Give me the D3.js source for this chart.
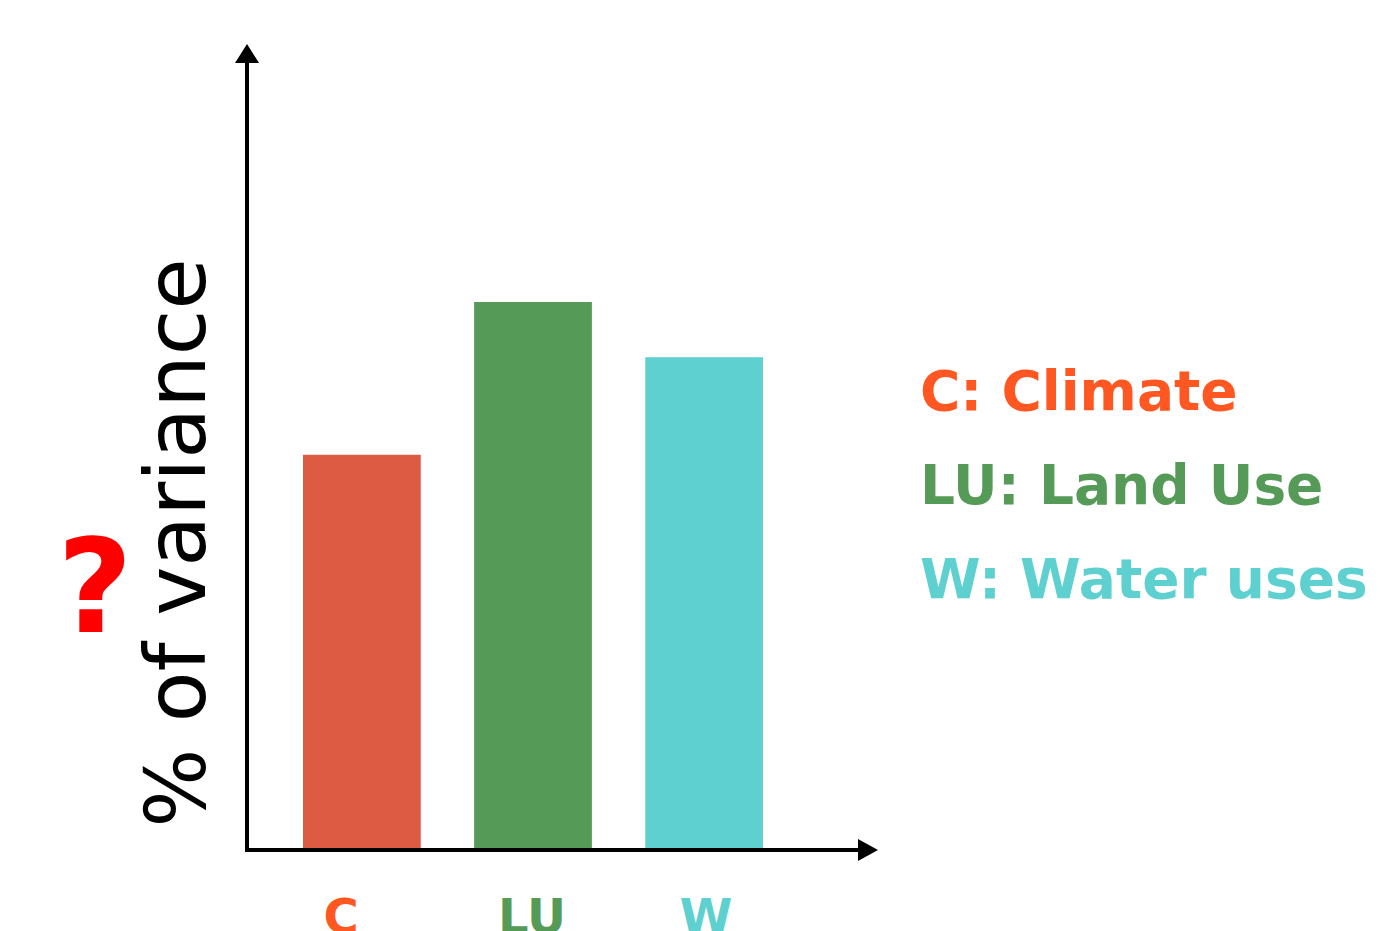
<!DOCTYPE html>
<html><head><meta charset="utf-8">
<script src="https://cdn.jsdelivr.net/npm/d3@7"></script>
<style>body{margin:0;background:#fff;overflow:hidden}svg{display:block}text{font-family:"DejaVu Sans",sans-serif}</style>
</head><body>
<script>
const categories = ["C", "LU", "W"];
const values = [49.4, 68.5, 61.6];
const barColors = ["#DD5A43", "#569A58", "#5FD0D0"];
const labelColors = ["#FF5722", "#569A58", "#5FD0D0"];
const legendLabels = ["C: Climate", "LU: Land Use", "W: Water uses"];

const W = 1394, H = 931;
const svg = d3.select("body").append("svg").attr("width", W).attr("height", H);

const x = d3.scaleBand().domain(categories).range([303, 763]).paddingInner(0.312).paddingOuter(0);
const y = d3.scaleLinear().domain([0, 100]).range([850, 50]);
const labelX = d3.scalePoint().domain(categories).range([341, 706]);

// bars
svg.selectAll("rect.bar").data(categories).join("rect").attr("class","bar")
  .attr("x", d => x(d)).attr("width", x.bandwidth())
  .attr("y", (d,i) => y(values[i])).attr("height", (d,i) => y(0) - y(values[i]))
  .attr("fill", (d,i) => barColors[i]);

// axes
const ax = 247, ay = y(0);
svg.append("line").attr("x1",ax).attr("y1",ay+2).attr("x2",ax).attr("y2",60)
  .attr("stroke","#000").attr("stroke-width",4);
svg.append("path").attr("d",`M${ax},44 L${ax+12},63 L${ax-12},63 Z`).attr("fill","#000");
svg.append("line").attr("x1",ax-2).attr("y1",ay).attr("x2",862).attr("y2",ay)
  .attr("stroke","#000").attr("stroke-width",4);
svg.append("path").attr("d",`M878,${ay} L858,${ay-11} L858,${ay+11} Z`).attr("fill","#000");

// category labels
svg.selectAll("text.cat").data(categories).join("text").attr("class","cat")
  .attr("x", (d,i) => i === 1 ? 532 : labelX(d)).attr("y", 933)
  .attr("text-anchor","middle").attr("font-weight","bold").attr("font-size",48)
  .attr("fill",(d,i) => labelColors[i]).text(d => d);

// legend
svg.selectAll("text.leg").data(legendLabels).join("text").attr("class","leg")
  .attr("x", 920).attr("y", (d,i) => 410 + i*94)
  .attr("font-weight","bold").attr("font-size",55)
  .attr("fill",(d,i) => labelColors[i]).text(d => d);

// y label
svg.append("text").attr("transform","translate(205,543) rotate(-90)")
  .attr("text-anchor","middle").attr("font-size",83).attr("fill","#000").text("% of variance");

svg.append("text").attr("x",95).attr("y",632).attr("text-anchor","middle")
  .attr("font-weight","bold").attr("font-size",130).attr("fill","#FF0000").text("?");
</script>
</body></html>
